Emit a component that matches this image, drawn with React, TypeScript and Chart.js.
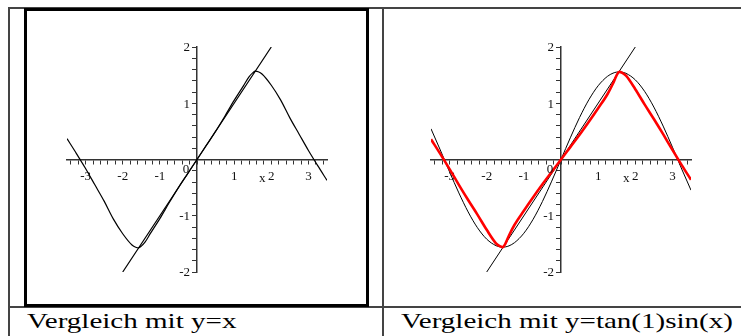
import React, { useEffect, useRef } from "react";
import { Chart, registerables } from "chart.js";

Chart.register(...registerables);

// Sample abscissae shared by all curves
const SAMPLE_X = [
  -3.5, -3.25, -3.0, -2.75, -2.5, -2.25, -2.0, -1.75, -1.65, -1.57, -1.5, -1.4, -1.25, -1.0, -0.75, -0.5, -0.25,
  0, 0.25, 0.5, 0.75, 1.0, 1.25, 1.4, 1.5, 1.57, 1.65, 1.75, 2.0, 2.25, 2.5, 2.75, 3.0, 3.25, 3.5,
];

// Function compared with y = x (left panel)
const CURVE_LEFT = [
  0.37, 0.11, -0.16, -0.45, -0.74, -1.06, -1.32, -1.52, -1.56, -1.57, -1.54, -1.47, -1.31, -1.05, -0.77, -0.5, -0.25,
  0, 0.25, 0.5, 0.77, 1.05, 1.31, 1.47, 1.54, 1.57, 1.56, 1.52, 1.32, 1.06, 0.74, 0.45, 0.16, -0.11, -0.37,
];

// Function compared with tan(1)sin(x) (right panel, red)
const CURVE_RIGHT = [
  0.36, 0.1, -0.17, -0.45, -0.72, -0.98, -1.25, -1.49, -1.54, -1.557, -1.5, -1.35, -1.16, -0.91, -0.67, -0.44, -0.22,
  0, 0.22, 0.44, 0.67, 0.91, 1.16, 1.35, 1.5, 1.557, 1.54, 1.49, 1.25, 0.98, 0.72, 0.45, 0.17, -0.1, -0.36,
];

// tan(1)·sin(x)
const SINE_TAN1 = [
  0.546, 0.169, -0.22, -0.594, -0.932, -1.212, -1.416, -1.532, -1.552, -1.557, -1.554, -1.535, -1.478, -1.311, -1.062, -0.747, -0.385,
  0, 0.385, 0.747, 1.062, 1.311, 1.478, 1.535, 1.554, 1.557, 1.552, 1.532, 1.416, 1.212, 0.932, 0.594, 0.22, -0.169, -0.546,
];

// y = x
const DIAG_X = [-2, 2];
const DIAG_Y = [-2, 2];

const X_RANGE = [-3.5, 3.5];
const Y_RANGE = [-2, 2];
const X_LABELED = [-3, -2, -1, 1, 2, 3];
const Y_LABELED = [-2, -1, 1, 2];
const MINOR_STEP = 0.2;

const CAPTIONS = ["Vergleich mit y=x", "Vergleich mit y=tan(1)sin(x)"];

const SERIF = '"Liberation Serif", "Times New Roman", serif';
const TICK_FONT = { family: SERIF, size: 13 };
const AXIS_COLOR = "#333";

function points(xs: number[], ys: number[]) {
  return xs.map((x, i) => ({ x, y: ys[i] }));
}

function minorTicks(lo: number, hi: number) {
  const out: { value: number }[] = [];
  const n0 = Math.ceil(lo / MINOR_STEP - 1e-9);
  const n1 = Math.floor(hi / MINOR_STEP + 1e-9);
  for (let n = n0; n <= n1; n++) out.push({ value: Math.round(n * MINOR_STEP * 10) / 10 });
  return out;
}

function labelFor(list: number[]) {
  return (v: number | string) => {
    const n = Number(v);
    const r = Math.round(n);
    return Math.abs(n - r) < 1e-6 && list.includes(r) ? String(r) : "";
  };
}

// Writes the vertical-axis numbers, the "0" at the origin and the "x" axis name
const axisNotes = {
  id: "axisNotes",
  afterDraw(chart: any) {
    const { ctx, scales } = chart;
    const xs = scales.x;
    const ys = scales.y;
    const ox = xs.getPixelForValue(0);
    const oy = ys.getPixelForValue(0);
    ctx.save();
    ctx.fillStyle = "#111";
    ctx.font = `${TICK_FONT.size}px ${SERIF}`;
    ctx.textBaseline = "middle";
    ctx.textAlign = "right";
    for (const v of Y_LABELED) ctx.fillText(String(v), ox - 7, ys.getPixelForValue(v) + 1);
    ctx.textAlign = "center";
    ctx.fillText("0", ox - 11, oy + 10);
    ctx.fillText("x", xs.getPixelForValue(1.76), oy + 19);
    ctx.restore();
  },
};

type Series = { xs: number[]; ys: number[]; color: string; width: number };

function Plot(props: {
  left: number;
  top: number;
  width: number;
  height: number;
  padding: { left: number; top: number; right: number; bottom: number };
  series: Series[];
}) {
  const ref = useRef<HTMLCanvasElement | null>(null);
  useEffect(() => {
    if (!ref.current) return;
    const chart = new Chart(ref.current, {
      type: "line",
      data: {
        datasets: props.series.map((s) => ({
          data: points(s.xs, s.ys),
          borderColor: s.color,
          borderWidth: s.width,
          pointRadius: 0,
          fill: false,
          cubicInterpolationMode: "monotone" as const,
        })),
      },
      options: {
        animation: false,
        responsive: false,
        maintainAspectRatio: false,
        devicePixelRatio: 1,
        layout: { padding: props.padding },
        plugins: { legend: { display: false }, tooltip: { enabled: false } },
        scales: {
          x: {
            type: "linear",
            min: X_RANGE[0],
            max: X_RANGE[1],
            position: { y: 0 } as any,
            afterBuildTicks: (scale: any) => {
              scale.ticks = minorTicks(-3.4, 3.4);
            },
            ticks: {
              autoSkip: false,
              maxRotation: 0,
              padding: 5,
              color: "#111",
              font: TICK_FONT,
              callback: labelFor(X_LABELED),
            },
            grid: { drawOnChartArea: false, drawTicks: true, tickLength: 4, tickColor: AXIS_COLOR, tickWidth: 1 },
            border: { display: true, color: AXIS_COLOR, width: 1.5 },
          },
          y: {
            type: "linear",
            min: Y_RANGE[0],
            max: Y_RANGE[1],
            position: { x: 0 } as any,
            afterBuildTicks: (scale: any) => {
              scale.ticks = minorTicks(Y_RANGE[0], Y_RANGE[1]);
            },
            ticks: {
              autoSkip: false,
              font: TICK_FONT,
              callback: () => "",
            },
            grid: { drawOnChartArea: false, drawTicks: true, tickLength: 4, tickColor: AXIS_COLOR, tickWidth: 1 },
            border: { display: true, color: AXIS_COLOR, width: 1.5 },
          },
        },
      },
      plugins: [axisNotes],
    });
    return () => chart.destroy();
  }, []);
  return (
    <canvas
      ref={ref}
      width={props.width}
      height={props.height}
      style={{ position: "absolute", left: props.left, top: props.top, width: props.width, height: props.height }}
    />
  );
}

const rule = (left: number, top: number, width: number, height: number, color = "#444") => (
  <div style={{ position: "absolute", left, top, width, height, background: color }} />
);

export default function App() {
  const captionStyle = {
    position: "absolute" as const,
    top: 310,
    fontFamily: SERIF,
    fontSize: 22,
    lineHeight: "22px",
    color: "#000",
    whiteSpace: "nowrap" as const,
    transform: "scaleX(1.32)",
    transformOrigin: "left top",
  };
  return (
    <div
      style={{
        position: "absolute",
        left: 0,
        top: 0,
        width: 741,
        height: 336,
        background: "#fff",
        overflow: "hidden",
      }}
    >
      {rule(8, 7, 733, 2)}
      {rule(8, 7, 2, 329)}
      {rule(382, 7, 2, 329)}
      {rule(8, 306, 733, 2)}
      <div
        style={{
          position: "absolute",
          left: 24,
          top: 8,
          width: 345,
          height: 299,
          border: "3px solid #000",
          boxSizing: "border-box",
        }}
      />
      <Plot
        left={40}
        top={20}
        width={310}
        height={275}
        padding={{ left: 27, top: 27, right: 23, bottom: 23 }}
        series={[{ xs: SAMPLE_X, ys: CURVE_LEFT, color: "#000", width: 1.2 }, { xs: DIAG_X, ys: DIAG_Y, color: "#000", width: 1.2 }]}
      />
      <Plot
        left={400}
        top={20}
        width={310}
        height={275}
        padding={{ left: 31, top: 27, right: 19, bottom: 23 }}
        series={[
          { xs: SAMPLE_X, ys: CURVE_RIGHT, color: "#ff0000", width: 2.6 },
          { xs: SAMPLE_X, ys: SINE_TAN1, color: "#000", width: 1 },
          { xs: DIAG_X, ys: DIAG_Y, color: "#000", width: 1 },
        ]}
      />
      <div style={{ ...captionStyle, left: 27 }}>{CAPTIONS[0]}</div>
      <div style={{ ...captionStyle, left: 401 }}>{CAPTIONS[1]}</div>
    </div>
  );
}
